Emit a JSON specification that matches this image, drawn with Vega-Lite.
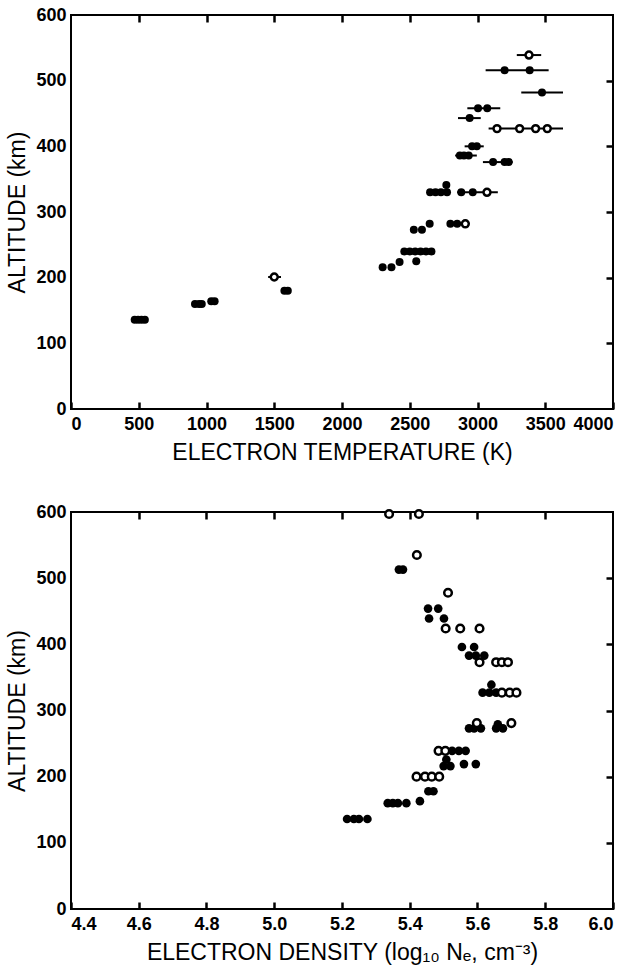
{
  "$schema": "https://vega.github.io/schema/vega-lite/v6.json",
  "padding": {"left": 5, "top": 5, "right": 5, "bottom": 5},
  "background": "white",
  "config": {
    "font": "Liberation Sans",
    "view": {"stroke": "black", "strokeWidth": 2},
    "axis": {
      "domain": false, "grid": false, "ticks": true,
      "labelFont": "Liberation Sans", "labelFontSize": 18, "labelFontWeight": "bold", "labelColor": "black",
      "titleFont": "Liberation Sans", "titleFontSize": 23, "titleFontWeight": "normal", "titleColor": "black",
      "tickColor": "black", "tickWidth": 2.5, "tickOpacity": 1
    }
  },
  "datasets": {
    "pts_a": [
      {"alt": 136, "t": 470, "open": 0}, {"alt": 136, "t": 495, "open": 0}, {"alt": 136, "t": 520, "open": 0}, {"alt": 136, "t": 545, "open": 0},
      {"alt": 160, "t": 915, "open": 0}, {"alt": 160, "t": 945, "open": 0}, {"alt": 160, "t": 965, "open": 0},
      {"alt": 164, "t": 1035, "open": 0}, {"alt": 164, "t": 1060, "open": 0},
      {"alt": 201, "t": 1500, "open": 1},
      {"alt": 180, "t": 1575, "open": 0}, {"alt": 180, "t": 1600, "open": 0},
      {"alt": 216, "t": 2300, "open": 0}, {"alt": 216, "t": 2365, "open": 0},
      {"alt": 224, "t": 2425, "open": 0},
      {"alt": 225, "t": 2548, "open": 0},
      {"alt": 240, "t": 2460, "open": 0}, {"alt": 240, "t": 2500, "open": 0}, {"alt": 240, "t": 2540, "open": 0}, {"alt": 240, "t": 2580, "open": 0}, {"alt": 240, "t": 2620, "open": 0}, {"alt": 240, "t": 2660, "open": 0},
      {"alt": 273, "t": 2530, "open": 0}, {"alt": 273, "t": 2590, "open": 0},
      {"alt": 282, "t": 2647, "open": 0},
      {"alt": 282, "t": 2800, "open": 0}, {"alt": 282, "t": 2850, "open": 0}, {"alt": 282, "t": 2910, "open": 1},
      {"alt": 330, "t": 2650, "open": 0}, {"alt": 330, "t": 2690, "open": 0}, {"alt": 330, "t": 2730, "open": 0}, {"alt": 330, "t": 2775, "open": 0},
      {"alt": 341, "t": 2770, "open": 0},
      {"alt": 330, "t": 2880, "open": 0}, {"alt": 330, "t": 2965, "open": 0}, {"alt": 330, "t": 3070, "open": 1},
      {"alt": 376, "t": 3115, "open": 0}, {"alt": 376, "t": 3200, "open": 0}, {"alt": 376, "t": 3230, "open": 0},
      {"alt": 386, "t": 2870, "open": 0}, {"alt": 386, "t": 2900, "open": 0}, {"alt": 386, "t": 2935, "open": 0},
      {"alt": 400, "t": 2960, "open": 0}, {"alt": 400, "t": 2995, "open": 0},
      {"alt": 427, "t": 3144, "open": 1}, {"alt": 427, "t": 3311, "open": 1}, {"alt": 427, "t": 3429, "open": 1}, {"alt": 427, "t": 3515, "open": 1},
      {"alt": 443, "t": 2942, "open": 0},
      {"alt": 458, "t": 3004, "open": 0}, {"alt": 458, "t": 3072, "open": 0},
      {"alt": 482, "t": 3476, "open": 0},
      {"alt": 516, "t": 3200, "open": 0}, {"alt": 516, "t": 3385, "open": 0},
      {"alt": 539, "t": 3380, "open": 1}
    ],
    "bars_a": [
      {"alt": 201, "lo": 1455, "hi": 1550},
      {"alt": 330, "lo": 2850, "hi": 3150},
      {"alt": 376, "lo": 3040, "hi": 3260},
      {"alt": 386, "lo": 2835, "hi": 2995},
      {"alt": 400, "lo": 2905, "hi": 3046},
      {"alt": 427, "lo": 3082, "hi": 3631},
      {"alt": 443, "lo": 2856, "hi": 3024},
      {"alt": 458, "lo": 2925, "hi": 3168},
      {"alt": 482, "lo": 3323, "hi": 3631},
      {"alt": 516, "lo": 3060, "hi": 3525},
      {"alt": 539, "lo": 3290, "hi": 3470}
    ],
    "pts_b": [
      {"alt": 597, "n": 5.339, "open": 1}, {"alt": 597, "n": 5.427, "open": 1},
      {"alt": 535, "n": 5.421, "open": 1},
      {"alt": 513, "n": 5.368, "open": 0}, {"alt": 513, "n": 5.38, "open": 0},
      {"alt": 478, "n": 5.513, "open": 1},
      {"alt": 454, "n": 5.454, "open": 0}, {"alt": 454, "n": 5.484, "open": 0},
      {"alt": 439, "n": 5.457, "open": 0}, {"alt": 439, "n": 5.501, "open": 0},
      {"alt": 424, "n": 5.506, "open": 1}, {"alt": 424, "n": 5.549, "open": 1}, {"alt": 424, "n": 5.606, "open": 1},
      {"alt": 396, "n": 5.554, "open": 0}, {"alt": 396, "n": 5.59, "open": 0},
      {"alt": 383, "n": 5.575, "open": 0}, {"alt": 383, "n": 5.595, "open": 0}, {"alt": 383, "n": 5.62, "open": 0},
      {"alt": 373, "n": 5.606, "open": 1}, {"alt": 373, "n": 5.655, "open": 1}, {"alt": 373, "n": 5.672, "open": 1}, {"alt": 373, "n": 5.69, "open": 1},
      {"alt": 339, "n": 5.641, "open": 0},
      {"alt": 327, "n": 5.615, "open": 0}, {"alt": 327, "n": 5.635, "open": 0}, {"alt": 327, "n": 5.655, "open": 0},
      {"alt": 327, "n": 5.672, "open": 1}, {"alt": 327, "n": 5.695, "open": 1}, {"alt": 327, "n": 5.715, "open": 1},
      {"alt": 281, "n": 5.598, "open": 1}, {"alt": 279, "n": 5.66, "open": 0}, {"alt": 281, "n": 5.70, "open": 1},
      {"alt": 273, "n": 5.575, "open": 0}, {"alt": 273, "n": 5.59, "open": 0}, {"alt": 273, "n": 5.61, "open": 0}, {"alt": 273, "n": 5.655, "open": 0}, {"alt": 273, "n": 5.675, "open": 0},
      {"alt": 239, "n": 5.485, "open": 1}, {"alt": 239, "n": 5.505, "open": 1}, {"alt": 239, "n": 5.525, "open": 0}, {"alt": 239, "n": 5.545, "open": 0}, {"alt": 239, "n": 5.565, "open": 0},
      {"alt": 226, "n": 5.508, "open": 0}, {"alt": 216, "n": 5.50, "open": 0}, {"alt": 216, "n": 5.52, "open": 0},
      {"alt": 219, "n": 5.56, "open": 0}, {"alt": 219, "n": 5.595, "open": 0},
      {"alt": 200, "n": 5.42, "open": 1}, {"alt": 200, "n": 5.445, "open": 1}, {"alt": 200, "n": 5.465, "open": 1}, {"alt": 200, "n": 5.487, "open": 1},
      {"alt": 178, "n": 5.455, "open": 0}, {"alt": 178, "n": 5.47, "open": 0},
      {"alt": 163, "n": 5.43, "open": 0},
      {"alt": 160, "n": 5.335, "open": 0}, {"alt": 160, "n": 5.35, "open": 0}, {"alt": 160, "n": 5.365, "open": 0}, {"alt": 160, "n": 5.39, "open": 0},
      {"alt": 136, "n": 5.215, "open": 0}, {"alt": 136, "n": 5.235, "open": 0}, {"alt": 136, "n": 5.25, "open": 0}, {"alt": 136, "n": 5.275, "open": 0}
    ]
  },
  "spacing": 37,
  "vconcat": [
    {
      "width": 542,
      "height": 394,
      "resolve": {"axis": {"x": "independent", "y": "independent"}},
      "layer": [
        {
          "data": {"name": "bars_a"},
          "mark": {"type": "rule", "color": "black", "strokeWidth": 2},
          "encoding": {
            "x": {"field": "lo", "type": "quantitative", "scale": {"domain": [0, 4000], "nice": false},
              "axis": {"orient": "bottom", "values": [0, 500, 1000, 1500, 2000, 2500, 3000, 3500, 4000], "format": "d", "offset": -7, "tickSize": 7, "labelPadding": 6, "title": "ELECTRON TEMPERATURE (K)", "titlePadding": 8}},
            "x2": {"field": "hi"},
            "y": {"field": "alt", "type": "quantitative", "scale": {"domain": [0, 600], "nice": false},
              "axis": {"orient": "left", "values": [0, 100, 200, 300, 400, 500, 600], "ticks": false, "labelPadding": 5, "title": "ALTITUDE (km)", "titlePadding": 6}}
          }
        },
        {
          "data": {"name": "pts_a"},
          "transform": [{"filter": "datum.open == 0"}],
          "mark": {"type": "circle", "color": "black", "size": 64, "opacity": 1},
          "encoding": {
            "x": {"field": "t", "type": "quantitative", "axis": null},
            "y": {"field": "alt", "type": "quantitative", "axis": null}
          }
        },
        {
          "data": {"name": "pts_a"},
          "transform": [{"filter": "datum.open == 1"}],
          "mark": {"type": "point", "shape": "circle", "stroke": "black", "fill": "white", "filled": false, "strokeWidth": 2.5, "size": 48, "opacity": 1},
          "encoding": {
            "x": {"field": "t", "type": "quantitative",
              "axis": {"orient": "top", "values": [500, 1000, 1500, 2000, 2500, 3000, 3500], "labels": false, "offset": -7, "tickSize": 7, "title": null}},
            "y": {"field": "alt", "type": "quantitative",
              "axis": {"orient": "right", "values": [100, 200, 300, 400, 500], "labels": false, "offset": -7, "tickSize": 7, "title": null}}
          }
        },
        {
          "mark": {"type": "text", "fontSize": 20, "font": "Liberation Sans", "align": "center", "baseline": "middle", "color": "black"},
          "encoding": {
            "x": {"datum": 443, "type": "quantitative", "axis": null},
            "y": {"datum": 545, "type": "quantitative", "axis": null},
            "text": {"value": "(a)"}
          }
        }
      ]
    },
    {
      "width": 542,
      "height": 397,
      "resolve": {"axis": {"x": "independent", "y": "independent"}},
      "layer": [
        {
          "data": {"name": "pts_b"},
          "transform": [{"filter": "datum.open == 0"}],
          "mark": {"type": "circle", "color": "black", "size": 75, "opacity": 1},
          "encoding": {
            "x": {"field": "n", "type": "quantitative", "scale": {"domain": [4.4, 6.0], "nice": false, "zero": false},
              "axis": {"orient": "bottom", "values": [4.4, 4.6, 4.8, 5.0, 5.2, 5.4, 5.6, 5.8, 6.0], "format": ".1f", "offset": -7, "tickSize": 7, "labelPadding": 6, "title": "ELECTRON DENSITY (log₁₀ Nₑ, cm⁻³)", "titlePadding": 8}},
            "y": {"field": "alt", "type": "quantitative", "scale": {"domain": [0, 600], "nice": false},
              "axis": {"orient": "left", "values": [0, 100, 200, 300, 400, 500, 600], "ticks": false, "labelPadding": 5, "title": "ALTITUDE (km)", "titlePadding": 6}}
          }
        },
        {
          "data": {"name": "pts_b"},
          "transform": [{"filter": "datum.open == 1"}],
          "mark": {"type": "point", "shape": "circle", "stroke": "black", "fill": "white", "filled": false, "strokeWidth": 2.5, "size": 58, "opacity": 1},
          "encoding": {
            "x": {"field": "n", "type": "quantitative",
              "axis": {"orient": "top", "values": [4.6, 4.8, 5.0, 5.2, 5.4, 5.6, 5.8], "labels": false, "offset": -7, "tickSize": 7, "title": null}},
            "y": {"field": "alt", "type": "quantitative",
              "axis": {"orient": "right", "values": [100, 200, 300, 400, 500], "labels": false, "offset": -7, "tickSize": 7, "title": null}}
          }
        },
        {
          "mark": {"type": "text", "fontSize": 20, "font": "Liberation Sans", "align": "center", "baseline": "middle", "color": "black"},
          "encoding": {
            "x": {"datum": 4.578, "type": "quantitative", "axis": null},
            "y": {"datum": 546, "type": "quantitative", "axis": null},
            "text": {"value": "(b)"}
          }
        }
      ]
    }
  ]
}
